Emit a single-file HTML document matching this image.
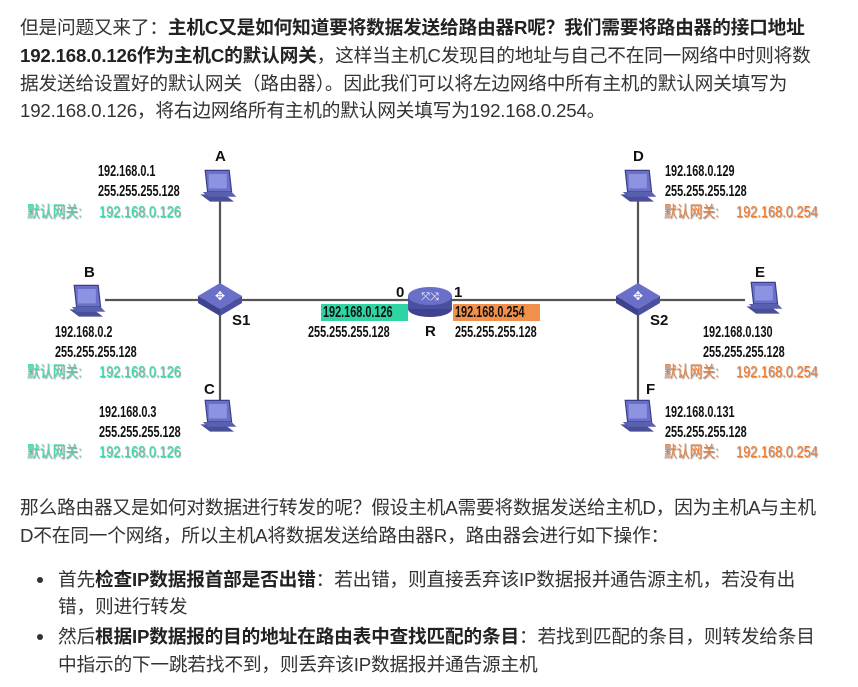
<!DOCTYPE html>
<html><head><meta charset="utf-8"><style>
body{margin:0;width:858px;height:687px;background:#fff;position:relative;overflow:hidden;font-family:"Liberation Sans","Noto Sans CJK SC",sans-serif;}
.p{position:absolute;left:20px;font-size:18.7px;color:#333;white-space:nowrap;line-height:28px;letter-spacing:-0.2px;}
.p b{color:#222;}
.t{position:absolute;font-family:"Liberation Sans","Noto Sans CJK SC",sans-serif;font-size:16px;font-weight:bold;color:#111;white-space:nowrap;line-height:16px;transform:translateY(-8px) scaleX(0.68);transform-origin:0 50%;}
.L{font-size:15px;font-weight:900;transform:translateY(-8px);}
.g{color:#3ad8ac;text-shadow:1px 1px 1px #999;font-weight:normal;transform:translateY(-8px) scaleX(0.8);}
.o{color:#ee7a2e;text-shadow:1px 1px 1px #999;font-weight:normal;transform:translateY(-8px) scaleX(0.8);}
.dot{position:absolute;left:37px;width:6px;height:6px;border-radius:50%;background:#333;}
</style></head><body>
<div class="p" style="top:14px">但是问题又来了：<b>主机C又是如何知道要将数据发送给路由器R呢？我们需要将路由器的接口地址</b></div>
<div class="p" style="top:42px"><b>192.168.0.126作为主机C的默认网关</b>，这样当主机C发现目的地址与自己不在同一网络中时则将数</div>
<div class="p" style="top:70px">据发送给设置好的默认网关（路由器）。因此我们可以将左边网络中所有主机的默认网关填写为</div>
<div class="p" style="top:97px">192.168.0.126，将右边网络所有主机的默认网关填写为192.168.0.254。</div>

<svg style="position:absolute;left:0;top:0" width="858" height="687">
<defs>
<g id="pc" transform="scale(1.2)"><polygon points="2,22 22,22 30,28 10,28" fill="#4a4f9a"/><polygon points="6,2 26,2 28,20 8,20" fill="#6a70c8" stroke="#3a3f88"/><rect x="9" y="5" width="15" height="12" fill="#8d93e0"/><polygon points="4,20 28,20 32,24 8,24" fill="#5a60b0"/></g>
<g id="sw"><polygon points="0,0 22,-13 44,0 22,13" fill="#6a70c8"/><polygon points="0,0 22,13 22,20 0,7" fill="#3e4390"/><polygon points="44,0 22,13 22,20 44,7" fill="#4a4fa0"/><text x="22" y="4" font-size="12" fill="#fff" text-anchor="middle">✥</text></g>
</defs>
<g stroke="#555" stroke-width="2.2">
<line x1="105" y1="300" x2="745" y2="300"/>
<line x1="220" y1="200" x2="220" y2="402"/>
<line x1="638" y1="200" x2="638" y2="402"/>
</g>
<use href="#pc" x="198" y="168"/>
<use href="#pc" x="67" y="283"/>
<use href="#pc" x="198" y="398"/>
<use href="#pc" x="618" y="168"/>
<use href="#pc" x="744" y="280"/>
<use href="#pc" x="618" y="398"/>
<use href="#sw" x="198" y="296"/>
<use href="#sw" x="616" y="296"/>
<ellipse cx="430" cy="309" rx="22" ry="8" fill="#3e4390"/>
<rect x="408" y="296" width="44" height="13" fill="#4a4fa0"/>
<ellipse cx="430" cy="296" rx="22" ry="9" fill="#6a70c8"/>
<text x="430" y="300" font-size="11" fill="#fff" text-anchor="middle">⤧⤨</text>
</svg>

<div class="t L" style="left:215px;top:157px">A</div>
<div class="t" style="left:98px;top:172px">192.168.0.1</div>
<div class="t" style="left:98px;top:192px">255.255.255.128</div>
<div class="t g" style="left:27px;top:213px">默认网关:</div>
<div class="t g" style="left:99px;top:213px">192.168.0.126</div>

<div class="t L" style="left:84px;top:273px">B</div>
<div class="t" style="left:55px;top:333px">192.168.0.2</div>
<div class="t" style="left:55px;top:353px">255.255.255.128</div>
<div class="t g" style="left:27px;top:373px">默认网关:</div>
<div class="t g" style="left:99px;top:373px">192.168.0.126</div>

<div class="t L" style="left:204px;top:390px">C</div>
<div class="t" style="left:99px;top:413px">192.168.0.3</div>
<div class="t" style="left:99px;top:433px">255.255.255.128</div>
<div class="t g" style="left:27px;top:453px">默认网关:</div>
<div class="t g" style="left:99px;top:453px">192.168.0.126</div>

<div class="t L" style="left:232px;top:321px">S1</div>
<div class="t L" style="left:396px;top:293px">0</div>
<div style="position:absolute;left:321px;top:304px;width:87px;height:17px;background:#2fd4a4"></div>
<div class="t" style="left:323px;top:313px">192.168.0.126</div>
<div class="t" style="left:308px;top:333px">255.255.255.128</div>
<div class="t L" style="left:425px;top:332px">R</div>
<div class="t L" style="left:454px;top:293px">1</div>
<div style="position:absolute;left:453px;top:304px;width:87px;height:17px;background:#f0904a"></div>
<div class="t" style="left:455px;top:313px">192.168.0.254</div>
<div class="t" style="left:455px;top:333px">255.255.255.128</div>

<div class="t L" style="left:633px;top:157px">D</div>
<div class="t" style="left:665px;top:172px">192.168.0.129</div>
<div class="t" style="left:665px;top:192px">255.255.255.128</div>
<div class="t o" style="left:664px;top:213px">默认网关:</div>
<div class="t o" style="left:736px;top:213px">192.168.0.254</div>

<div class="t L" style="left:755px;top:273px">E</div>
<div class="t" style="left:703px;top:333px">192.168.0.130</div>
<div class="t" style="left:703px;top:353px">255.255.255.128</div>
<div class="t o" style="left:664px;top:373px">默认网关:</div>
<div class="t o" style="left:736px;top:373px">192.168.0.254</div>

<div class="t L" style="left:646px;top:390px">F</div>
<div class="t" style="left:665px;top:413px">192.168.0.131</div>
<div class="t" style="left:665px;top:433px">255.255.255.128</div>
<div class="t o" style="left:664px;top:453px">默认网关:</div>
<div class="t o" style="left:736px;top:453px">192.168.0.254</div>

<div class="t L" style="left:650px;top:321px">S2</div>

<div class="p" style="top:494px">那么路由器又是如何对数据进行转发的呢？假设主机A需要将数据发送给主机D，因为主机A与主机</div>
<div class="p" style="top:522px">D不在同一个网络，所以主机A将数据发送给路由器R，路由器会进行如下操作：</div>
<div class="dot" style="top:577px"></div>
<div class="p" style="top:566px;left:58px">首先<b>检查IP数据报首部是否出错</b>：若出错，则直接丢弃该IP数据报并通告源主机，若没有出</div>
<div class="p" style="top:593px;left:58px">错，则进行转发</div>
<div class="dot" style="top:634px"></div>
<div class="p" style="top:623px;left:58px">然后<b>根据IP数据报的目的地址在路由表中查找匹配的条目</b>：若找到匹配的条目，则转发给条目</div>
<div class="p" style="top:651px;left:58px">中指示的下一跳若找不到，则丢弃该IP数据报并通告源主机</div>
</body></html>
